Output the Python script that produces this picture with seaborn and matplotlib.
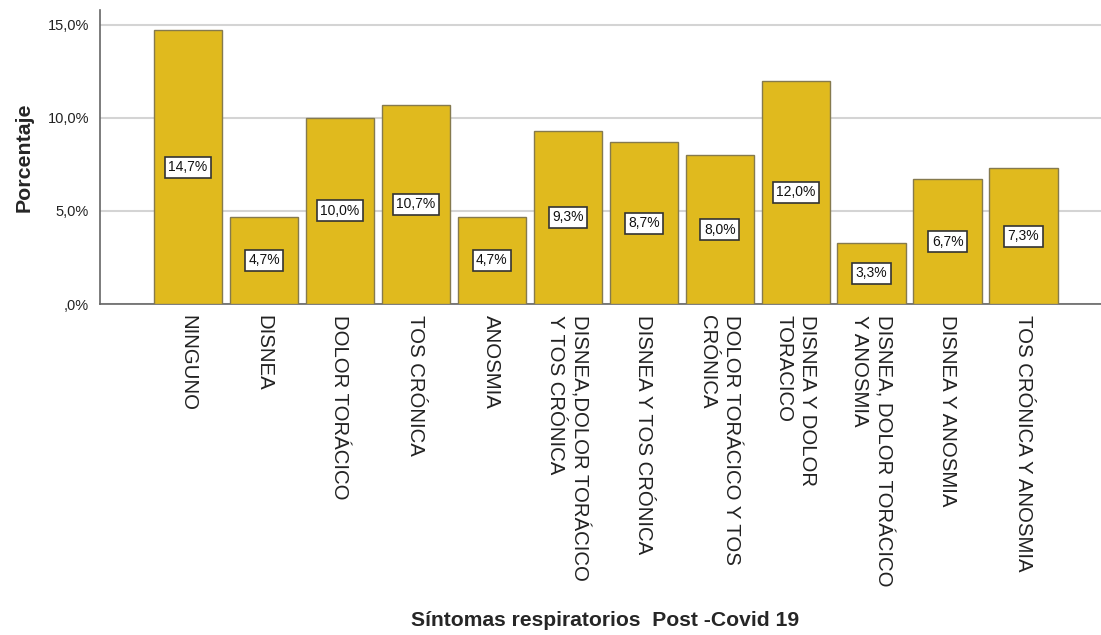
import matplotlib
matplotlib.use("Agg")
import matplotlib.pyplot as plt
import seaborn as sns
import pandas as pd
from matplotlib.ticker import FixedLocator, FuncFormatter

categories = [
    "NINGUNO", "DISNEA", "DOLOR TORÁCICO", "TOS CRÓNICA", "ANOSMIA",
    "DISNEA,DOLOR TORÁCICO\nY TOS CRÓNICA", "DISNEA Y TOS CRÓNICA",
    "DOLOR TORÁCICO Y TOS\nCRÓNICA", "DISNEA Y DOLOR\nTORACICO",
    "DISNEA, DOLOR TORÁCICO\nY ANOSMIA", "DISNEA Y ANOSMIA",
    "TOS CRÓNICA Y ANOSMIA",
]
values = [14.7, 4.7, 10.0, 10.7, 4.7, 9.3, 8.7, 8.0, 12.0, 3.3, 6.7, 7.3]
y_ticks = [0, 5, 10, 15]

df = pd.DataFrame({"cat": categories, "pct": values})

sns.set_theme(style="white")
plt.rcParams["font.family"] = ["Liberation Sans", "DejaVu Sans"]

fig = plt.figure(figsize=(11.01, 6.35), dpi=100)
ax = fig.add_axes([100 / 1101, 1 - 304 / 635, 1 - 100 / 1101, (304 - 10) / 635])

sns.barplot(data=df, x="cat", y="pct", order=categories, color="#E0BA1E",
            saturation=1, width=0.9, edgecolor="#857a4e", linewidth=1.0, ax=ax,
            errorbar=None, zorder=3)

ax.set_ylim(0, 15.8)
ax.set_xlim(-1.16, 12.02)
ax.yaxis.set_major_locator(FixedLocator(y_ticks))
ax.yaxis.set_major_formatter(FuncFormatter(
    lambda v, p: ",0%" if v == 0 else f"{v:.1f}".replace(".", ",") + "%"))
ax.grid(axis="y", color="#d4d4d4", linewidth=1.5, zorder=0)
ax.set_axisbelow(True)

for s in ["top", "right"]:
    ax.spines[s].set_visible(False)
for s in ["left", "bottom"]:
    ax.spines[s].set_color("#666666")
    ax.spines[s].set_linewidth(1.2)

ax.tick_params(axis="x", length=0, pad=8, labelsize=14.7, labelcolor="#222222")
ax.tick_params(axis="y", length=0, pad=8, labelsize=10.5, labelcolor="#222222")
for lab in ax.get_xticklabels():
    lab.set_rotation(270)
    lab.set_va("top")
    lab.set_ha("center")
    lab.set_multialignment("left")
    lab.set_linespacing(1.3)

labels = [f"{v:.1f}".replace(".", ",") + "%" for v in values]
ax.bar_label(ax.containers[0], labels=labels, label_type="center", fontsize=10,
             color="#111111", zorder=5,
             bbox=dict(boxstyle="square,pad=0.25", facecolor="white",
                       edgecolor="#333333", linewidth=1.2))

ax.set_ylabel("Porcentaje", fontsize=15.4, fontweight="bold", labelpad=10)
ax.set_xlabel("Síntomas respiratorios  Post -Covid 19", fontsize=15.2,
              fontweight="bold")
ax.xaxis.set_label_coords((605 - 100) / (1101 - 100), -(620 - 304) / (304 - 10))
ax.xaxis.label.set_va("center")

fig.savefig("out.png", dpi=100)
